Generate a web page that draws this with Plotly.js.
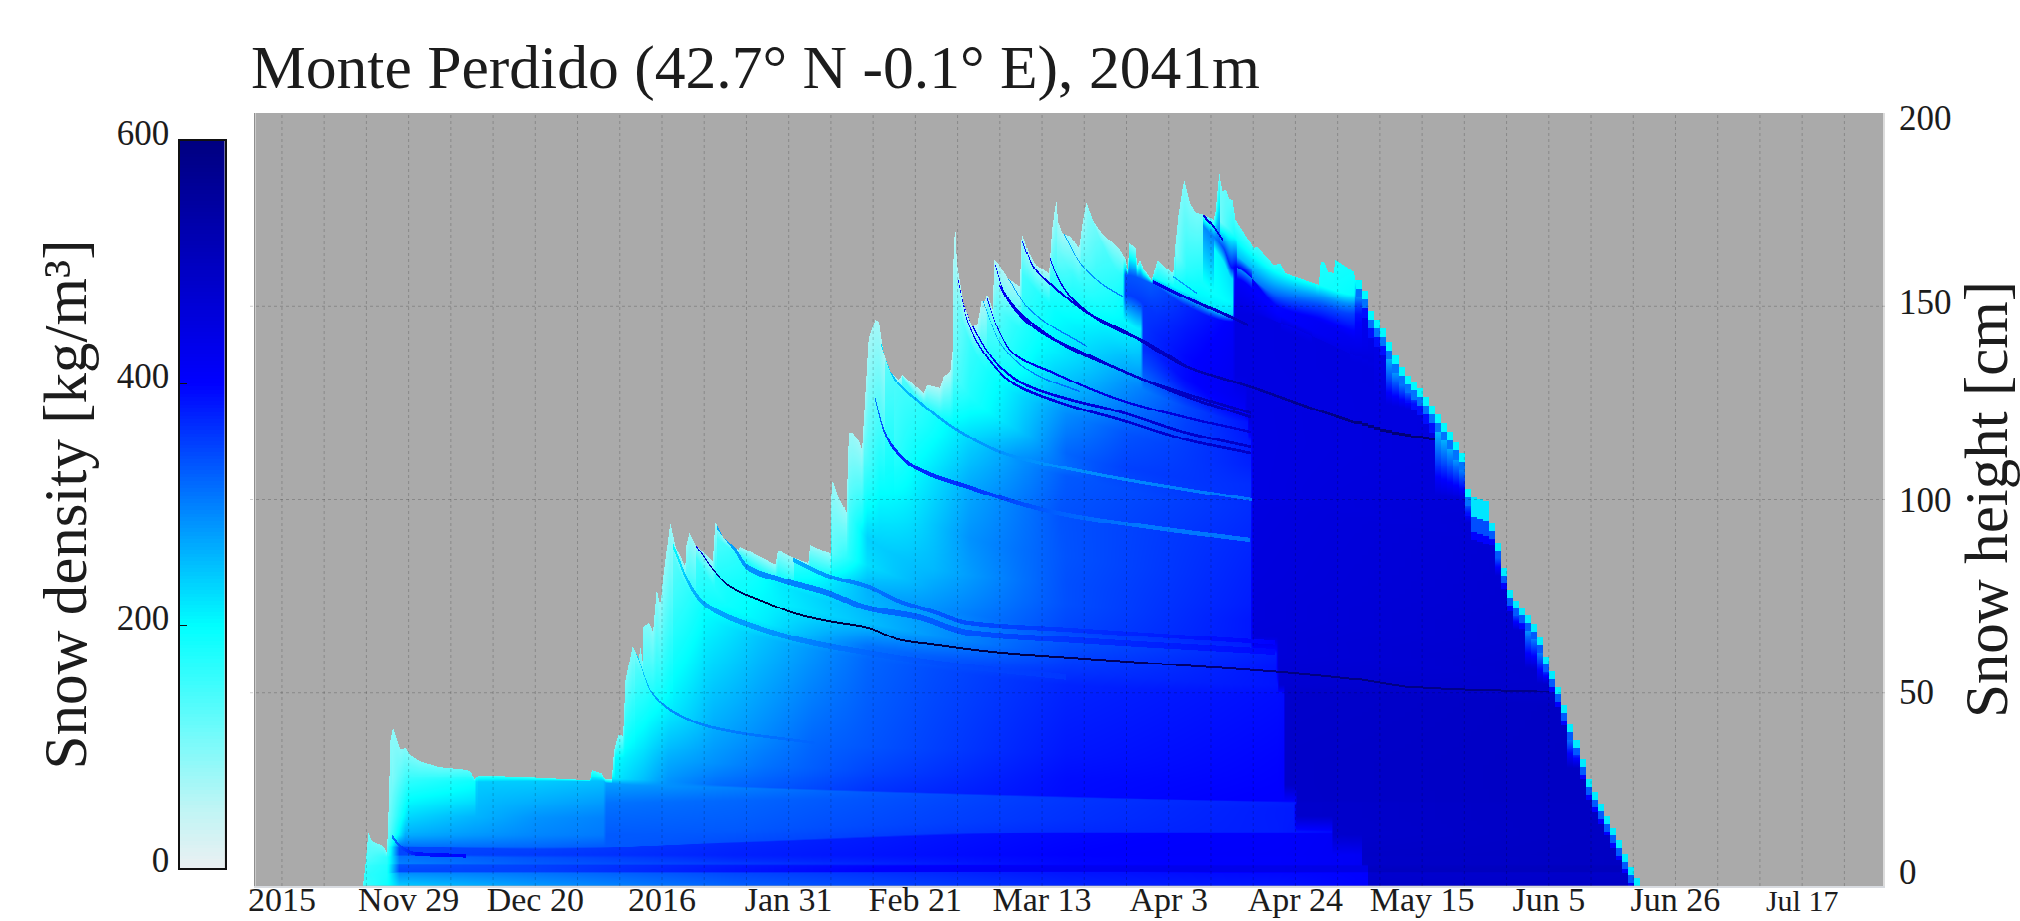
<!DOCTYPE html>
<html><head><meta charset="utf-8">
<script src="https://cdn.plot.ly/plotly-3.0.1.min.js"></script>
<style>html,body{margin:0;padding:0;background:#fff;overflow:hidden}</style>
</head><body><div id="chart" style="width:2020px;height:921px"></div>
<script>
// ---- text and axis values ----
const chartTitle = 'Monte Perdido (42.7° N -0.1° E), 2041m';
const densityTitle = 'Snow density [kg/m³]';
const heightTitle = 'Snow height [cm]';
const seasonStart = Date.UTC(2015,10,8);           // day 0 of every "day" value below
const dayRange = [-4.4,265.4];
const tickDays = [0,21,42,63,84,105,126,147,168,189,210,231,252];
const tickLabels = ['2015','Nov 29','Dec 20','2016','Jan 31','Feb 21','Mar 13','Apr 3','Apr 24','May 15','Jun 5','Jun 26','<span style="font-size:30px">Jul 17</span>'];
const weekGridDays = [0,7,14,21,28,35,42,49,56,63,70,77,84,91,98,105,112,119,126,133,140,147,154,161,168,175,182,189,196,203,210,217,224,231,238,245,252,259];
const heightGrid = [50,100,150];
const heightLabelAt = [3.6,50.2,99.9,151.1,198.7];
const heightLabels = ['0','50','100','150','200'];
const densityTicks = [0,200,400,600];

// ---- snow surface: [day, cm] ----
const surface = [[13.4,0],[13.8,5],[14.3,13.6],[14.9,11.5],[16.8,10.2],[17.4,8.5],[17.6,15.3],[18,37.8],[18.4,40.8],[19,38.3],[19.7,35],[20.4,35.9],[21.2,33.9],[22.9,32.2],[26.2,30.7],[30.9,30],[31.5,29.2],[32,27.4],[32.4,28.5],[35.6,28.5],[41.7,27.9],[51.1,27.2],[51.4,30],[53,29.2],[53.6,27.6],[54.7,27.4],[55.1,35.2],[55.8,39.1],[56.6,38.8],[57,53.3],[58.2,61.9],[59.2,58.9],[59.5,61.5],[59.9,57.7],[60,67.1],[60.9,68],[61.6,65.8],[62.2,76.6],[62.7,73.2],[63.2,81],[64.3,93.7],[65.2,87.8],[66.8,82.6],[67,88.2],[67.5,91.3],[68.5,88.2],[71.4,83.9],[71.8,94],[73.2,90],[75.7,86.9],[75.9,87.8],[81.8,83.1],[82.3,86.9],[84.2,85.2],[87.3,83.5],[87.6,88.2],[91,85.9],[91.2,104.6],[91.4,104.6],[92.3,100.7],[93.5,96.8],[93.9,117.1],[94.5,117.3],[95.6,115],[96.1,112.8],[97.2,141.7],[98.3,146.4],[98.9,146],[99.7,137.8],[100.8,133.1],[102.2,130.9],[102.8,132.2],[106.4,127.5],[106.9,129.6],[109.1,128.8],[109.7,131.8],[110.8,133.1],[111.2,138.7],[111.3,161.2],[111.6,171.5],[111.9,161.1],[113,150.8],[114.4,144.7],[115.3,145.2],[116,151.2],[116.6,151.2],[116.9,153.3],[117.9,149],[118.1,162],[118.6,161.5],[120.4,157.2],[122.4,155.1],[122.7,168.9],[123.8,163.7],[124.9,160.7],[127.1,158.5],[127.6,169.7],[128.3,177.5],[128.6,171.9],[129.3,168.9],[130.7,168],[132.1,165],[132.6,170.6],[133.3,177],[134.5,171.9],[135.9,168.9],[138.7,165],[139.8,162.4],[140.2,159.4],[140.5,166.3],[141.5,165],[141.8,160.7],[142.3,162],[142.8,159.8],[144.2,156.8],[145.2,162],[146.7,159.8],[147.8,158.5],[148.1,165],[148.7,174],[149.6,182.8],[150.6,176.6],[151.7,174],[152.8,173.6],[154.4,172.3],[154.7,174.9],[155.3,184.6],[155.8,179.6],[156.4,180.1],[156.9,177.9],[157.5,177.5],[158,172.3],[160.2,167.1],[161.1,165],[161.6,165.4],[164.4,160.7],[165.5,161.1],[166.3,158.5],[168,157.6],[171.9,155.5],[172.2,161.5],[172.8,161.5],[173.4,158.9],[174.4,158.5],[174.6,162],[175.2,161.5],[177.7,158.9],[178,156.8],[178.8,155.1],[179.9,149],[182.1,143.9],[183.8,137.8],[185.4,133.1],[188.2,128.3],[190.1,124],[192.6,118.4],[194.8,112.8],[195.6,109.4],[195.9,102.9],[197,100.5],[199.2,99.4],[199.8,94.7],[201.4,86.9],[202.5,78.3],[203.4,74.9],[205.3,71.4],[207.5,66.7],[209,59.3],[211.2,50.7],[212.9,42.2],[214.3,36.5],[216,27.4],[218.2,20.5],[220.7,12.8],[222.9,5],[224.8,0]];
// density at the snow surface: [day, kg/m3]
const surfaceDensity = [[13.4,120],[17,110],[18,90],[31,130],[33,150],[52,150],[54,110],[60,100],[64,80],[92,80],[98,70],[112,60],[130,70],[140,90],[145,110],[150,100],[156,120],[160,150],[178,190],[225,220]];

// ---- layer interfaces: [day, cm, kg/m3] ----
const h00=[[13.4,0,150],[17.4,0,190],[19.5,0,240],[42,0,280],[53,0,295],[75,0,325],[130,0,372],[165,0,385],[179.7,0,400],[180,0,480],[225,0,490]];
const h01=[[13.4,2.4,165],[17.4,3,180],[19.5,3.3,290],[42,3.3,310],[75,3.3,345],[130,3.4,385],[165,3.3,395],[179.7,3.3,400],[180,3.3,475],[225,3.3,485]];
const h02=[[13.4,2.6,165],[17.4,3.2,180],[19.5,3.5,345],[42,3.5,350],[75,3.5,385],[130,3.7,425],[165,3.6,435],[179.7,3.6,440],[180,3.6,500],[225,3.6,505]];
const h03=[[13.4,5,155],[17.4,5.3,175],[19.5,5.3,335],[42,5.2,350],[75,5.1,380],[130,5,420],[165,5,435],[179.2,5,440],[179.5,5,490],[225,5,505]];
const h04=[[13.4,5.4,150],[17.4,5.5,170],[19.5,5.6,300],[42,5.5,330],[75,5.5,355],[130,5.4,395],[165,5.4,405],[178,5.4,415],[178.3,5.4,485],[225,5.4,495]];
const h05=[[13.4,7.5,130],[17.4,7.5,165],[19.5,7.7,310],[42,7.3,335],[75,7.3,370],[130,7.4,398],[165,7.4,405],[178,7.4,415],[178.3,7.4,485],[225,7.4,495]];
const h06=[[17.6,8,160],[19.5,8,345],[42,8,355],[75,8,375],[130,8,400],[165,8,408],[178,8,415],[178.3,8,488],[225,8,495]];
const h07=[[17.6,10,150],[19.5,10,345],[42,9.5,350],[75,11,370],[130,13.5,395],[165,13.3,405],[174,13.2,412],[174.3,13.2,480],[225,13,495]];
const h08=[[17.6,10.4,140],[19.5,10.2,310],[42,10,320],[53,10,330],[75,11.3,340],[130,14,368],[165,14,378],[174,14,390],[174.3,14,480],[225,14,495]];
const h09=[[17.8,13,130],[20.5,13,265],[42,13,295],[53.3,13,305],[53.8,13,330],[75,14.5,330],[130,17,362],[167.8,18,380],[168.2,18,480],[225,17,495]];
const h10=[[18,18,120],[21,18,230],[42,17.5,285],[53.3,17.5,298],[53.8,17.5,320],[75,18,325],[130,20,360],[167.8,20,380],[168.2,20,480],[225,19,495]];
const h11=[[18,23,110],[21,23,195],[32,22.5,220],[32.4,22.5,250],[42,21.4,265],[53.3,21.5,278],[53.8,21.5,310],[75,22,320],[130,22.5,358],[167.8,21,378],[168.2,21,480],[225,20,495]];
const h12=[[18.3,28,100],[21,27,165],[32,27,190],[32.4,26.8,240],[42,27,240],[53.3,27,250],[53.8,26.5,275],[75,25.3,300],[97,24.2,330],[130,22.8,360],[165,21.6,376],[168,21.5,378],[168.3,21.5,480],[225,21,495]];
const h13=[[54.8,27.6,215],[60,27.3,250],[64,27,285],[72,26,315],[97,24.6,360],[130,23.2,392],[150,22.4,398],[168,22,403],[168.3,22,485],[225,21.5,495]];
const u01=[[55.2,33,200],[60,33,230],[64,32.5,265],[80,31,310],[97,30,345],[130,28,390],[165,26,400],[166,26,403],[166.3,26,485],[225,25,495]];
const u02=[[58.5,58,130],[61,50,175],[64.3,45.3,215],[71.5,40.9,265],[88,37,320],[130,34,383],[165,32,398],[166,32,400],[166.3,32,485],[225,30,495]];
const u03=[[64.8,85,130],[67.7,75,170],[70,70,200],[79,64.5,245],[97,58.5,320],[108,56,340],[130,52,372],[165,50,390],[166,50,392],[166.3,50,480],[225,45,495]];
const u04=[[68.5,85,150],[73.8,73,190],[80.4,68,215],[97,62,310],[130,55.5,360],[165,52,385],[165.3,52,470],[225,47,490]];
const u05=[[71.8,80,175],[80.4,74.5,205],[97,68,250],[130,60,345],[164.8,56.5,385],[165.2,56.5,465],[215,48,485]];
const u06=[[72,90,140],[82.6,78,215],[97,71,255],[130,63,335],[164.8,60,378],[165.2,60,460],[210,52,480]];
const u07=[[85,84,160],[91,79,215],[97,77,260],[108,72,285],[130,67,345],[160.5,64.5,382],[161,64.5,458],[207,56,480]];
const u08=[[91.3,86,130],[97,83,225],[108,77,270],[130,73,338],[160.5,69,382],[161,69,455],[205,62,475]];
const u09=[[94,96,150],[97,90,235],[108,82,255],[130,78,338],[160.5,73,378],[161,73,455],[205,66,475]];
const u10=[[96.5,112,130],[99,105,190],[105,96,225],[114,90,285],[130,85,335],[160.5,80,375],[161,80,452],[203,72,472]];
const u11=[[101.5,116,155],[105,109,200],[114,104,265],[129,97,335],[160.5,90,370],[161,90,450],[202,80,470]];
const u12=[[100,135,130],[106,120,175],[114,113,240],[130,106,330],[160.5,98,365],[161,98,448],[200,88,468]];
const u13=[[99.5,140,110],[106,125,165],[112,118,215],[122,110.7,285],[136,106,340],[160.5,100,365],[161,100,445],[198,90,465]];
const u14=[[111.3,133,130],[114,127,175],[122,118,240],[130,112,320],[140,108,350],[160.5,104,365],[161,104,445],[196,94,465]];
const u15=[[112,150,110],[114,141,155],[117,133,185],[122,127,225],[130,122,290],[140,117,335],[160.5,109,375],[161,109,445],[195,100,460]];
const u16=[[117,150,120],[119,140,160],[122,134,190],[128,129.5,245],[140,123,310],[150,119,350],[160.5,115,380],[161,115,445],[190,110,455]];
const u17=[[118.5,150,125],[121,146,160],[125,141,195],[134,134,245],[140,130,285],[150,124,345],[160,120,385],[160.3,120,445],[190,110,455]];
const u18=[[122.8,158,150],[128,149,195],[134,142,220],[140,137,250],[142.4,135,260],[142.8,135,345],[150,129,385],[159.5,124,415],[159.9,124,445],[190,114,455]];
const u19=[[127.3,157,165],[130.7,150,190],[136,144,215],[142.4,139,240],[142.8,139,365],[150,131,395],[157.5,127,420],[159.6,126,425],[160,126,445],[190,116,450]];
const u20=[[128.5,165,110],[131,158,155],[136,150,185],[139.5,146.5,205],[142.4,144,215],[142.8,144,360],[150,137,395],[157.5,132,420],[158,132,445],[190,122,450]];
const u21=[[132.5,168,100],[135,160,150],[139.4,153,190],[139.8,153,350],[145,148,360],[150,143,385],[157.5,139,415],[158,139,445],[180,130,450]];
const u22=[[133.5,176,90],[136,166,135],[139.4,158,170],[139.8,158,335],[144,156,330],[150,150,370],[157.5,146,405],[158,146,445],[180,134,450]];
const u24=[[144.5,157.5,180],[150,153.5,205],[157.5,148,225],[157.9,148,445],[180,136,450]];
const u25=[[148.2,164,100],[150,160,165],[152,157,185],[157.5,151,205],[157.9,151,435],[165,146,425],[178,137,440],[180,135,445]];
const u26=[[154.4,165,200],[156,161.5,215],[157.5,157,225],[157.9,157,405],[165,148,400],[178,139,435]];
const u27=[[152.7,171,290],[154.4,168,300],[156,165,345],[157.5,160,390],[158,160,410],[165,150,395],[172,146,415],[178,141,425],[180,139,440]];
const u28=[[155.4,172,110],[157.5,169,170],[157.9,168,190],[160,165,185],[165,159,190],[172,155.5,185],[177.8,153,200],[178.2,153,340],[180,148,400]];
const t02=[[158.2,160,290],[165,153,320],[172,150.3,340],[177.8,148,350],[178.2,148,425],[182,138,440]];
const t03=[[158.2,163,250],[165,155.5,265],[172,152.6,280],[177.8,150.5,290],[178.2,150.5,395],[182,140,435]];
const interfaces=[h00,h01,h02,h03,h04,h05,h06,h07,h08,h09,h10,h11,h12,h13,u01,u02,u03,u04,u05,u06,u07,u08,u09,u10,u11,u12,u13,u14,u15,u16,u17,u18,u19,u20,u21,u22,u24,u25,u26,u27,u28,t02,t03];

// ---- thin ice crusts and bands: [day, cm, kg/m3] ----
const c01=[[18.2,12.8,300],[19.9,9.8,350],[22.3,8.3,385],[30.6,7.8,400]];
const c02=[[58.8,60.3,230],[61.4,49.9,270],[64.3,45.5,290],[71.5,40.9,300],[88.4,37,322]];
const c03=[[64.8,87.8,200],[67.7,77.4,260],[69.8,73.2,270],[78.8,66.8,280],[85.9,63.6,295],[97,60.3,320],[108,57.7,338],[130,54,358]];
const c04=[[68.5,88.2,420],[71.5,81.8,560],[73.8,77.9,620],[80.4,73.2,650],[85.9,70.1,650],[91.4,68.3,650],[97,66.8,650],[102.5,63.6,650],[108,62.4,650],[119.1,60.3,650],[130.7,59,640],[147.6,57.2,620],[164.5,55.4,600],[178.8,53.3,600],[186.9,51.5,590],[211.1,50.2,580]];
const c05=[[72.1,92.9,270],[74.8,87.7,275],[77.1,82.5,285],[82.6,79.2,295],[90.4,75.8,305],[97,71.9,315],[105.3,69.6,325],[113.8,65.5,335],[130.7,63.6,360],[164.5,60.5,395]];
const c06=[[84.7,84.3,260],[90.9,80,285],[97,77.4,305],[102.5,73.5,320],[108,70.9,330],[113.8,68,340],[130.7,66.2,360],[164.5,62.9,400]];
const c07=[[98.2,126.5,300],[99.7,118,340],[101.2,113.6,370],[104.8,108.4,370],[113.8,103.2,360],[128.5,96.5,325],[143.3,92.9,305],[160.4,89.5,310]];
const c08=[[99.2,140.5,220],[101.3,131.7,250],[105.8,125,260],[111.9,118,275],[119.1,112.3,285],[122.4,110.7,285],[135.7,106.3,290],[160.7,99.9,310]];
const c09=[[112.1,156.8,400],[113.6,146.4,420],[116.9,136.9,430],[121.2,130.1,440],[129,125,460],[139,120.6,470],[150.1,115.4,480],[160.5,112,490]];
const c10=[[112.8,151.6,400],[114.6,144.6,420],[119.1,134.3,430],[124,129.1,440],[129,126.5,450],[139,122.6,470],[150.1,117.2,480],[160.5,113.6,490]];
const c11=[[116.9,152.1,390],[118.6,144.6,420],[121.2,137.9,430],[127.9,132.7,440],[139,125.7,450],[150.1,121.1,460],[160.5,117.5,470]];
const c12=[[116.3,151.1,260],[119.1,140.5,280],[124.5,132.7,300],[132.3,127.8,320]];
const c13=[[118.2,161.2,400],[119.6,154.2,430],[122.4,148.3,450],[129.5,140,470],[139,133.5,490],[150.1,126.5,500],[160.5,121.3,510]];
const c14=[[118.9,155.5,400],[120.7,150.8,430],[124.5,144.6,450],[133.5,137.4,470],[144.4,130.1,490],[160.5,122.4,510]];
const c15=[[120.4,157.3,270],[124,149,290],[133.5,139.5,310]];
const c16=[[122.7,167.1,360],[124.5,160.2,430],[127.9,155,450],[133.5,148.3,470],[140.1,143.1,490],[150.1,134.3,520],[160.5,129.1,550],[173,122.4,590],[185.4,116.7,610],[190.9,115.4,610]];
const c17=[[127.2,162.7,400],[128.5,157.6,440],[130.7,152.4,460],[136.2,145.7,470],[143.4,140.5,490],[150.1,134.3,510]];
const c18=[[129.5,169,260],[132.3,161.2,280],[135.7,156,290],[139.5,152.4,300]];
const c19=[[144.4,156.3,430],[150.1,152.1,460],[158.4,146.4,500],[160,145.2,520]];
const c20=[[147.8,157.6,270],[151.7,153.4,290]];
const c21=[[152.7,173.6,440],[154.4,170.5,460],[155.9,167.1,450]];
const crusts=[c01,c02,c03,c04,c05,c06,c07,c08,c09,c10,c11,c12,c13,c14,c15,c16,c17,c18,c19,c20,c21];
const crustHalfWidth=[.45,.35,.7,.25,.75,.55,.55,.4,.35,.35,.3,.2,.35,.35,.2,.35,.35,.2,.4,.2,.4];

// ---- melt-season wet skin under the surface: day, depth of the bands (cm), their density ----
const skinDays=[178,196.5,197,199.5,200,225];
const skinDepthA=[2.2,2.2,5,5,2,2];
const skinDepthB=[4.5,4.5,9,9,4,4];
const skinDepthC=[7,7,11,11,5.5,5];
const skinRhoA=[205,205,220,220,215,215];
const skinRhoB=[310,310,340,340,330,330];
const skinRhoC=[390,390,400,400,400,400];

// ---- colour scale stops: [kg/m3, colour] ----
const densityMaxDrawn=660;
const colourStops=[[0,'rgb(235,240,242)'],[50,'rgb(190,245,245)'],[100,'rgb(128,250,250)'],[200,'rgb(0,255,255)'],[400,'rgb(0,0,255)'],[600,'rgb(0,0,128)'],[660,'rgb(0,0,55)']];
const densityColours=colourStops.map(s=>[s[0]/densityMaxDrawn,s[1]]);

function at(curve,t,col){
  if(t<curve[0][0]||t>curve[curve.length-1][0])return null;
  for(let i=1;i<curve.length;i++){
    if(t<=curve[i][0]){
      const a=curve[i-1],b=curve[i],f=(t-a[0])/((b[0]-a[0])||1);
      return a[col]+(b[col]-a[col])*f;
    }
  }
  return curve[curve.length-1][col];
}
// smooth reading of a compaction curve's height between the points
const slopeCache=new Map();
function slopes(curve){
  if(slopeCache.has(curve))return slopeCache.get(curve);
  const n=curve.length,d=[],m=new Array(n).fill(0);
  for(let i=0;i<n-1;i++)d.push((curve[i+1][1]-curve[i][1])/((curve[i+1][0]-curve[i][0])||1));
  for(let i=1;i<n-1;i++){
    if(d[i-1]*d[i]>0){
      const w1=2*(curve[i+1][0]-curve[i][0])+(curve[i][0]-curve[i-1][0]),w2=(curve[i+1][0]-curve[i][0])+2*(curve[i][0]-curve[i-1][0]);
      m[i]=(w1+w2)/(w1/d[i-1]+w2/d[i]);
    }
  }
  m[0]=d[0]||0;m[n-1]=d[n-2]||0;
  slopeCache.set(curve,m);
  return m;
}
function heightOf(curve,t){
  if(t<curve[0][0]||t>curve[curve.length-1][0])return null;
  const m=slopes(curve);
  for(let i=1;i<curve.length;i++){
    if(t<=curve[i][0]){
      const a=curve[i-1],b=curve[i],w=(b[0]-a[0])||1,s=(t-a[0])/w;
      const s2=s*s,s3=s2*s;
      return (2*s3-3*s2+1)*a[1]+(s3-2*s2+s)*w*m[i-1]+(-2*s3+3*s2)*b[1]+(s3-s2)*w*m[i];
    }
  }
  return curve[curve.length-1][1];
}
function skin(arr,t){
  for(let i=1;i<skinDays.length;i++){
    if(t<=skinDays[i]){const f=(t-skinDays[i-1])/(skinDays[i]-skinDays[i-1]);return arr[i-1]+(arr[i]-arr[i-1])*f;}
  }
  return arr[arr.length-1];
}
const dateOf=d=>new Date(seasonStart+d*864e5).toISOString().replace('T',' ').slice(0,19);

// sample grid of the section picture
const colStep=1/6, rowStep=0.25, firstDay=13, lastDay=225.5, topCm=190;
const xDays=[],yCm=[];
for(let d=firstDay;d<=lastDay;d+=colStep)xDays.push(d);
for(let h=rowStep/2;h<topCm;h+=rowStep)yCm.push(h);
const zRows=yCm.map(()=>new Array(xDays.length).fill(null));
xDays.forEach((d0,c)=>{
  const t=d0>=178?Math.floor(d0):d0;       // the melt season is stored day by day
  const top=at(surface,t,1);
  if(top===null||top<=0)return;
  const nodes=[];
  interfaces.forEach(L=>{const h=heightOf(L,t);if(h!==null&&h<top)nodes.push([h,at(L,t,2)]);});
  nodes.sort((a,b)=>a[0]-b[0]);
  nodes.push([top,at(surfaceDensity,t,1)]);
  let k=0;
  for(let r=0;r<yCm.length;r++){
    const h=yCm[r];
    if(h>=top)break;
    while(k<nodes.length-2&&h>nodes[k+1][0])k++;
    const A=nodes[k],B=nodes[k+1]||A;
    const f=Math.max(0,Math.min(1,(h-A[0])/((B[0]-A[0])||1)));
    zRows[r][c]=A[1]+(B[1]-A[1])*f;
  }
  crusts.forEach((L,i)=>{
    const hc=heightOf(L,t);if(hc===null)return;
    const rc=at(L,t,2),w=crustHalfWidth[i];
    for(let r=Math.max(0,Math.floor((hc-w)/rowStep));r<=Math.ceil((hc+w)/rowStep)&&r<yCm.length;r++){
      if(Math.abs(yCm[r]-hc)<=w&&yCm[r]<top)zRows[r][c]=rc;
    }
  });
  if(t>=178){
    const dA=skin(skinDepthA,t),dB=skin(skinDepthB,t),dC=skin(skinDepthC,t);
    const rA=skin(skinRhoA,t),rB=skin(skinRhoB,t),rC=skin(skinRhoC,t);
    for(let r=0;r<yCm.length&&yCm[r]<top;r++){
      const dep=top-yCm[r];
      if(dep<dA)zRows[r][c]=rA;else if(dep<dB)zRows[r][c]=rB;else if(dep<dC)zRows[r][c]=Math.min(zRows[r][c],rC);
    }
  }
});

// density scale drawn as its own small heatmap, so its labels can sit on the left
const barValues=[];for(let v=0;v<=600;v+=3)barValues.push(v);

const serif='"Liberation Serif","Times New Roman",serif';
const ink='#1c1c1c';
const traces=[
 {type:'heatmap',x:xDays.map(dateOf),y:yCm,z:zRows,colorscale:densityColours,zmin:0,zmax:densityMaxDrawn,showscale:false,hoverinfo:'skip',xaxis:'x',yaxis:'y'},
 {type:'scatter',x:[],y:[],xaxis:'x',yaxis:'y2',showlegend:false,hoverinfo:'skip'},
 {type:'heatmap',x:[0],y:barValues,z:barValues.map(v=>[v]),colorscale:densityColours,zmin:0,zmax:densityMaxDrawn,showscale:false,hoverinfo:'skip',xaxis:'x3',yaxis:'y3'}
];
const W=2020,H=921;
const px=(v)=>v/W, py=(v)=>1-v/H;
const gridColour='rgba(0,0,0,0.2)';
const shapes=[
 ...weekGridDays.map(d=>({type:'line',xref:'x',yref:'paper',x0:dateOf(d),x1:dateOf(d),y0:py(886),y1:py(113),layer:'above',line:{color:gridColour,width:1,dash:'dot'}})),
 ...heightGrid.map(h=>({type:'line',xref:'paper',yref:'y',x0:px(250),x1:px(1886),y0:h,y1:h,layer:'above',line:{color:gridColour,width:1,dash:'dot'}}))
];
const layout={
 width:W,height:H,paper_bgcolor:'#fff',plot_bgcolor:'#aaaaaa',showlegend:false,
 margin:{l:0,r:0,t:0,b:0,pad:0},
 font:{family:serif,color:ink,size:35},
 title:{text:chartTitle,font:{family:serif,size:61.6,color:ink},x:px(251),xanchor:'left',xref:'paper',y:py(66),yanchor:'middle',yref:'container',pad:{l:0,t:0,b:0,r:0}},
 xaxis:{domain:[px(255.4),px(1883)],type:'date',range:[dateOf(dayRange[0]),dateOf(dayRange[1])],tickmode:'array',tickvals:tickDays.map(dateOf),ticktext:tickLabels,ticks:'',ticklabelstandoff:-18,showgrid:false,zeroline:false,showline:true,linecolor:'#d8dbe0',linewidth:1.5,tickfont:{family:serif,size:34,color:ink},tickangle:0,anchor:'y',automargin:false},
 yaxis:{domain:[py(886),py(113)],range:[0,200],showgrid:false,zeroline:false,showticklabels:false,ticks:'',showline:true,linecolor:'#8f8f8f',linewidth:1,anchor:'x',automargin:false},
 yaxis2:{overlaying:'y',side:'right',anchor:'x',range:[0,200],tickmode:'array',tickvals:heightLabelAt,ticktext:heightLabels,ticks:'outside',ticklen:7,tickcolor:'rgba(0,0,0,0)',showgrid:false,zeroline:false,showline:true,linecolor:'#dcdcdc',linewidth:2,tickfont:{family:serif,size:35,color:ink},automargin:false,
   title:{text:heightTitle,font:{family:serif,size:61,color:ink},standoff:31}},
 xaxis3:{domain:[px(180),px(224.5)],range:[-0.5,0.5],showticklabels:false,ticks:'',showgrid:false,zeroline:false,showline:true,mirror:true,linecolor:'#111',linewidth:1.5,anchor:'y3',fixedrange:true,automargin:false},
 yaxis3:{domain:[py(868),py(141)],range:[0,600],side:'left',anchor:'x3',tickmode:'array',tickvals:densityTicks,ticktext:densityTicks.map(String),ticks:'inside',ticklen:7,tickcolor:'#111',tickwidth:1,ticklabelstandoff:2,ticklabelshift:-8,showgrid:false,zeroline:false,showline:true,mirror:true,linecolor:'#111',linewidth:1.5,tickfont:{family:serif,size:35,color:ink},fixedrange:true,automargin:false,
   title:{text:densityTitle,font:{family:serif,size:61,color:ink},standoff:10}},
 shapes
};
Plotly.newPlot('chart',traces,layout,{displayModeBar:false,responsive:false});
</script></body></html>
